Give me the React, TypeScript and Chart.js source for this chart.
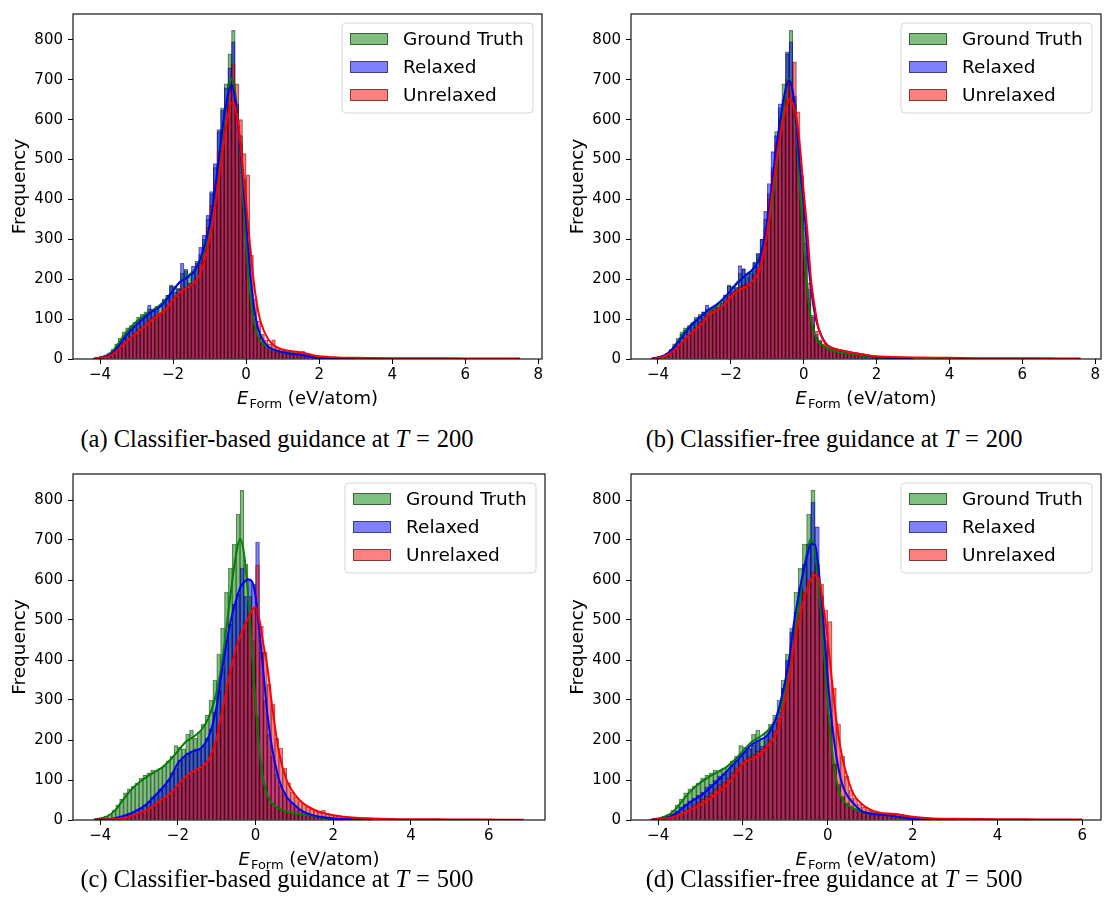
import React, { useEffect, useRef } from "react";
import { Chart, registerables } from "chart.js";

Chart.register(...registerables);

const FONT = "'DejaVu Sans', sans-serif";
const SERIES_NAMES = ["Ground Truth", "Relaxed", "Unrelaxed"];
const FILL = ["rgba(0,128,0,0.5)", "rgba(0,0,255,0.5)", "rgba(255,0,0,0.5)"];
const LINE = ["#008000", "#0000ff", "#ff0000"];
const EDGE = "rgba(0,0,0,0.5)";

// histogram bins (0.1 eV/atom wide, first edge at -4.2)
const BIN_START = -4.2;
const BIN_WIDTH = 0.1;

const X_TICKS_AB = [-4, -2, 0, 2, 4, 6, 8];
const X_TICKS_CD = [-4, -2, 0, 2, 4, 6];
const Y_TICKS = [0, 100, 200, 300, 400, 500, 600, 700, 800];
const Y_MAX = 865;

// Ground truth counts (same data in all four panels)
const GT_COUNTS = [
  2, 4, 6, 10, 15, 25, 38, 52, 68, 78,
  84, 92, 105, 112, 118, 125, 122, 130, 135, 148,
  160, 186, 182, 178, 215, 225, 205, 220, 240, 262,
  300, 350, 415, 480, 570, 630, 690, 765, 824, 640,
  560, 450, 260, 140, 85, 55, 42, 33, 27, 23,
  20, 18, 16, 14, 13, 12, 10, 9, 8, 6,
  4, 3, 2, 2, 1, 1, 1, 1, 0, 0,
];

// (a) classifier-based, T = 200
const A_RELAXED = [
  1, 3, 5, 8, 12, 20, 30, 42, 58, 66,
  75, 80, 98, 104, 112, 135, 126, 132, 112, 150,
  160, 182, 168, 176, 240, 222, 190, 233, 245, 280,
  310, 360, 420, 490, 575, 625, 680, 730, 795, 640,
  540, 430, 280, 165, 100, 62, 44, 34, 27, 22,
  19, 17, 15, 13, 12, 11, 10, 8, 7, 5,
  3, 2, 2, 1, 1, 1, 0, 0, 0, 0,
];
const A_UNRELAXED = [
  2, 2, 3, 5, 8, 12, 18, 28, 40, 48,
  56, 65, 72, 80, 88, 98, 105, 110, 115, 125,
  135, 148, 155, 160, 175, 180, 178, 185, 200, 240,
  280, 330, 385, 445, 520, 575, 630, 690, 740, 690,
  600, 515, 462, 260, 150, 95, 62, 48, 38, 48,
  30, 25, 21, 19, 18, 16, 15, 20, 12, 9,
  7, 5, 4, 4, 3, 3, 3, 2, 2, 2,
];

// (b) classifier-free, T = 200
const B_RELAXED = [
  1, 3, 5, 8, 12, 20, 32, 45, 62, 72,
  80, 88, 100, 108, 118, 135, 122, 128, 130, 140,
  160, 183, 170, 180, 234, 227, 210, 215, 243, 265,
  300, 370, 440, 520, 560, 640, 630, 770, 795, 660,
  540, 430, 290, 175, 105, 62, 45, 32, 27, 24,
  21, 19, 17, 15, 14, 12, 12, 10, 9, 6,
  4, 3, 2, 2, 1, 1, 1, 0, 0, 0,
];
const B_UNRELAXED = [
  1, 2, 3, 5, 8, 13, 20, 30, 42, 52,
  60, 70, 80, 92, 100, 112, 118, 122, 128, 132,
  145, 160, 165, 172, 180, 185, 188, 192, 210, 230,
  262, 325, 400, 470, 540, 600, 650, 700, 690, 745,
  620, 460, 330, 190, 110, 70, 48, 38, 32, 27,
  24, 21, 19, 17, 15, 14, 13, 12, 11, 9,
  8, 7, 6, 6, 5, 5, 4, 4, 3, 3,
];

// (c) classifier-based, T = 500
const C_RELAXED = [
  0, 1, 1, 2, 3, 5, 7, 9, 12, 16,
  20, 26, 30, 38, 46, 58, 65, 78, 85, 100,
  118, 130, 150, 158, 168, 172, 178, 175, 185, 205,
  228, 270, 322, 380, 445, 490, 540, 565, 630, 560,
  600, 590, 695, 420, 300, 215, 160, 115, 85, 65,
  52, 42, 33, 25, 20, 15, 12, 9, 7, 6,
  5, 4, 3, 2, 2, 1, 1, 1, 0, 0,
];
const C_UNRELAXED = [
  0, 1, 1, 2, 2, 3, 4, 5, 7, 9,
  11, 14, 18, 22, 27, 33, 40, 47, 54, 61,
  70, 80, 91, 102, 112, 120, 126, 130, 136, 146,
  165, 190, 225, 270, 320, 370, 410, 440, 470, 495,
  515, 530, 638, 484, 420, 340, 290, 205, 180, 130,
  93, 70, 58, 48, 40, 33, 27, 23, 22, 25,
  17, 15, 13, 11, 9, 8, 7, 6, 5, 5,
];

// (d) classifier-free, T = 500
const D_RELAXED = [
  1, 2, 4, 7, 10, 16, 22, 32, 40, 48,
  55, 62, 70, 82, 90, 100, 110, 115, 122, 138,
  150, 165, 172, 180, 188, 200, 185, 210, 228, 245,
  270, 330, 400, 470, 520, 580, 640, 690, 795, 733,
  530, 390, 240, 140, 90, 60, 42, 32, 25, 20,
  17, 15, 14, 13, 12, 12, 11, 10, 8, 7,
  5, 4, 3, 2, 1, 1, 1, 0, 0, 0,
];
const D_UNRELAXED = [
  1, 2, 3, 5, 7, 10, 14, 18, 23, 30,
  38, 45, 52, 60, 68, 78, 88, 95, 105, 118,
  130, 140, 150, 158, 165, 172, 178, 188, 200, 222,
  255, 310, 375, 440, 500, 540, 570, 600, 620, 640,
  590, 525, 496, 330, 240, 160, 110, 75, 55, 40,
  32, 26, 22, 19, 18, 17, 16, 16, 15, 14,
  12, 10, 8, 7, 6, 5, 4, 3, 3, 2,
];

// KDE curves (sampled, in counts)
const KDE_X = [
  -4.15, -4.0, -3.8, -3.6, -3.4, -3.2, -3.0, -2.8, -2.6, -2.4,
  -2.2, -2.0, -1.8, -1.6, -1.4, -1.2, -1.0, -0.9, -0.8, -0.7,
  -0.6, -0.5, -0.4, -0.3, -0.2, -0.1, 0.0, 0.1, 0.2, 0.3,
  0.4, 0.6, 0.8, 1.0, 1.2, 1.4, 1.6, 1.8, 2.0, 2.5, 3.0,
];
const GT_KDE = [
  2, 4, 10, 26, 52, 76, 94, 108, 120, 132,
  150, 172, 195, 208, 225, 258, 322, 372, 440, 520,
  598, 665, 703, 668, 570, 430, 290, 175, 100, 62,
  44, 29, 21, 17, 14, 12, 9, 5, 3, 2, 1,
];
const A_RELAXED_KDE = [
  1, 3, 8, 20, 44, 68, 86, 102, 118, 128,
  146, 172, 194, 205, 222, 265, 335, 392, 462, 538,
  610, 662, 688, 652, 570, 465, 345, 228, 140, 86,
  58, 31, 22, 17, 14, 12, 9, 5, 3, 1, 0.5,
];
const A_UNRELAXED_KDE = [
  2, 3, 6, 15, 33, 50, 66, 80, 96, 110,
  124, 148, 168, 180, 192, 228, 302, 352, 415, 482,
  550, 610, 643, 632, 578, 485, 390, 292, 200, 135,
  92, 50, 32, 24, 20, 18, 15, 10, 7, 4, 3,
];
const A_TAIL_X = [4, 5, 6, 7, 7.5];
const A_TAIL_KDE = [2, 2, 1.5, 1, 1];

const B_RELAXED_KDE = [
  2, 4, 10, 25, 48, 72, 92, 108, 124, 136,
  152, 172, 192, 210, 225, 255, 345, 415, 495, 565,
  625, 675, 698, 670, 590, 480, 390, 270, 178, 115,
  78, 40, 27, 22, 18, 15, 12, 8, 5, 2, 1,
];
const B_UNRELAXED_KDE = [
  1, 3, 7, 18, 36, 55, 72, 88, 112, 122,
  135, 155, 172, 180, 195, 226, 320, 390, 460, 530,
  580, 625, 652, 640, 606, 530, 420, 320, 200, 132,
  80, 38, 27, 22, 18, 15, 12, 9, 7, 5, 4,
];
const B_TAIL_X = [4, 5, 6, 7, 7.6];
const B_TAIL_KDE = [3, 2, 2, 1.5, 1];

const C_RELAXED_KDE = [
  0.5, 1, 2, 5, 10, 17, 27, 40, 60, 80,
  105, 142, 162, 172, 180, 210, 285, 352, 410, 468,
  515, 550, 580, 594, 602, 598, 560, 470, 370, 270,
  195, 102, 58, 38, 22, 14, 9, 6, 4, 2, 1,
];
const C_UNRELAXED_KDE = [
  0.5, 1, 1.5, 3, 5, 10, 17, 26, 37, 52,
  66, 86, 108, 122, 132, 152, 205, 253, 300, 350,
  392, 430, 458, 482, 502, 522, 533, 500, 440, 385,
  305, 170, 100, 65, 44, 31, 22, 16, 12, 6, 4,
];
const C_TAIL_X = [4, 5, 6, 6.5, 6.9];
const C_TAIL_KDE = [2, 1.5, 1, 0.8, 0.5];

const D_RELAXED_KDE = [
  1, 2, 6, 15, 32, 48, 60, 78, 98, 120,
  142, 165, 188, 200, 215, 262, 350, 410, 492, 555,
  610, 655, 690, 688, 610, 490, 350, 240, 160, 105,
  72, 42, 22, 16, 14, 12, 9, 6, 3, 1, 0.5,
];
const D_UNRELAXED_KDE = [
  1, 2, 4, 9, 18, 28, 39, 52, 68, 85,
  110, 142, 152, 165, 188, 220, 305, 360, 434, 490,
  535, 575, 600, 612, 598, 530, 450, 345, 250, 179,
  130, 66, 40, 26, 19, 16, 15, 11, 8, 4, 3,
];
const D_TAIL_X = [4, 5, 6];
const D_TAIL_KDE = [2, 1.5, 1];

type PanelSpec = {
  key: string;
  left: number;
  top: number;
  width: number;
  height: number;
  padding: { left: number; right: number; top: number; bottom: number };
  xMin: number;
  xMax: number;
  xTicks: number[];
  counts: number[][];
  kdeX: number[][];
  kdeY: number[][];
};

const PANELS: PanelSpec[] = [
  {
    key: "a", left: 0, top: 0, width: 560, height: 420,
    padding: { left: 0, right: 18, top: 8, bottom: 6 },
    xMin: -4.74, xMax: 8.1, xTicks: X_TICKS_AB,
    counts: [GT_COUNTS, A_RELAXED, A_UNRELAXED],
    kdeX: [KDE_X, KDE_X, KDE_X.concat(A_TAIL_X)],
    kdeY: [GT_KDE, A_RELAXED_KDE, A_UNRELAXED_KDE.concat(A_TAIL_KDE)],
  },
  {
    key: "b", left: 558, top: 0, width: 548, height: 420,
    padding: { left: 0, right: 5, top: 8, bottom: 6 },
    xMin: -4.74, xMax: 8.16, xTicks: X_TICKS_AB,
    counts: [GT_COUNTS, B_RELAXED, B_UNRELAXED],
    kdeX: [KDE_X, KDE_X, KDE_X.concat(B_TAIL_X)],
    kdeY: [GT_KDE, B_RELAXED_KDE, B_UNRELAXED_KDE.concat(B_TAIL_KDE)],
  },
  {
    key: "c", left: 0, top: 460, width: 560, height: 420,
    padding: { left: 0, right: 15, top: 8, bottom: 5 },
    xMin: -4.7, xMax: 7.45, xTicks: X_TICKS_CD,
    counts: [GT_COUNTS, C_RELAXED, C_UNRELAXED],
    kdeX: [KDE_X, KDE_X, KDE_X.concat(C_TAIL_X)],
    kdeY: [GT_KDE, C_RELAXED_KDE, C_UNRELAXED_KDE.concat(C_TAIL_KDE)],
  },
  {
    key: "d", left: 558, top: 460, width: 548, height: 420,
    padding: { left: 0, right: 5, top: 8, bottom: 5 },
    xMin: -4.64, xMax: 6.44, xTicks: X_TICKS_CD,
    counts: [GT_COUNTS, D_RELAXED, D_UNRELAXED],
    kdeX: [KDE_X, KDE_X, KDE_X.concat(D_TAIL_X)],
    kdeY: [GT_KDE, D_RELAXED_KDE, D_UNRELAXED_KDE.concat(D_TAIL_KDE)],
  },
];

const CAPTIONS = [
  { label: "(a) Classifier-based guidance at ", t: "200", cx: 277, top: 425 },
  { label: "(b) Classifier-free guidance at ", t: "200", cx: 834, top: 425 },
  { label: "(c) Classifier-based guidance at ", t: "500", cx: 277, top: 865 },
  { label: "(d) Classifier-free guidance at ", t: "500", cx: 834, top: 865 },
];

const fmtTick = (v: number) => (v < 0 ? "\u2212" + Math.abs(v) : String(v));

const decorPlugin = {
  id: "decor",
  afterDraw(chart: any) {
    const { ctx, chartArea } = chart;
    const { left, right, top, bottom } = chartArea;
    ctx.save();
    // frame (spines)
    ctx.strokeStyle = "#000";
    ctx.lineWidth = 1.1;
    ctx.strokeRect(left, top, right - left, bottom - top);

    // x label: E_Form (eV/atom)
    const big = 18;
    const small = 13;
    ctx.fillStyle = "#000";
    ctx.textBaseline = "alphabetic";
    ctx.font = `italic ${big}px ${FONT}`;
    const wE = ctx.measureText("E").width;
    ctx.font = `${small}px ${FONT}`;
    const wSub = ctx.measureText("Form").width;
    ctx.font = `${big}px ${FONT}`;
    const rest = " (eV/atom)";
    const wRest = ctx.measureText(rest).width;
    const total = wE + 1 + wSub + wRest;
    let x = (left + right) / 2 - total / 2;
    const base = bottom + 45;
    ctx.textAlign = "left";
    ctx.font = `italic ${big}px ${FONT}`;
    ctx.fillText("E", x, base);
    x += wE + 1;
    ctx.font = `${small}px ${FONT}`;
    ctx.fillText("Form", x, base + 3.5);
    x += wSub;
    ctx.font = `${big}px ${FONT}`;
    ctx.fillText(rest, x, base);

    // legend
    const bw = 191;
    const bh = 90;
    const bx = right - 9 - bw;
    const by = top + 9;
    const r = 4;
    ctx.beginPath();
    ctx.moveTo(bx + r, by);
    ctx.lineTo(bx + bw - r, by);
    ctx.arcTo(bx + bw, by, bx + bw, by + r, r);
    ctx.lineTo(bx + bw, by + bh - r);
    ctx.arcTo(bx + bw, by + bh, bx + bw - r, by + bh, r);
    ctx.lineTo(bx + r, by + bh);
    ctx.arcTo(bx, by + bh, bx, by + bh - r, r);
    ctx.lineTo(bx, by + r);
    ctx.arcTo(bx, by, bx + r, by, r);
    ctx.closePath();
    ctx.fillStyle = "rgba(255,255,255,0.8)";
    ctx.fill();
    ctx.strokeStyle = "#d6d6d6";
    ctx.lineWidth = 1;
    ctx.stroke();
    ctx.font = `18.5px ${FONT}`;
    ctx.textBaseline = "middle";
    SERIES_NAMES.forEach((name, i) => {
      const cy = by + 16 + i * 28;
      ctx.fillStyle = FILL[i];
      ctx.fillRect(bx + 8, cy - 6, 38, 12);
      ctx.strokeStyle = EDGE;
      ctx.lineWidth = 1;
      ctx.strokeRect(bx + 8.5, cy - 5.5, 37, 11);
      ctx.fillStyle = "#000";
      ctx.fillText(name, bx + 61, cy + 1);
    });
    ctx.restore();
  },
};

function HistPanel({ spec }: { spec: PanelSpec }) {
  const ref = useRef<HTMLCanvasElement | null>(null);
  useEffect(() => {
    const canvas = ref.current;
    if (!canvas) return;
    const datasets: any[] = [];
    spec.counts.forEach((arr, s) => {
      datasets.push({
        type: "bar",
        label: SERIES_NAMES[s],
        data: arr.map((v, i) => ({ x: BIN_START + BIN_WIDTH * (i + 0.5), y: v })),
        backgroundColor: FILL[s],
        borderColor: EDGE,
        borderWidth: 0.5,
        barPercentage: 1,
        categoryPercentage: 1,
        grouped: false,
        order: 10 - s,
      });
    });
    spec.kdeY.forEach((arr, s) => {
      datasets.push({
        type: "line",
        label: SERIES_NAMES[s] + " KDE",
        data: arr.map((v, i) => ({ x: spec.kdeX[s][i], y: v })),
        borderColor: LINE[s],
        borderWidth: 2,
        pointRadius: 0,
        fill: false,
        cubicInterpolationMode: "monotone",
        order: 3 - s,
      });
    });
    const chart = new Chart(canvas, {
      type: "bar",
      data: { datasets },
      options: {
        animation: false,
        responsive: false,
        events: [],
        layout: { padding: spec.padding },
        plugins: {
          legend: { display: false },
          tooltip: { enabled: false },
        },
        scales: {
          x: {
            type: "linear",
            min: spec.xMin,
            max: spec.xMax,
            offset: false,
            afterBuildTicks: (axis: any) => {
              axis.ticks = spec.xTicks.map((v) => ({ value: v }));
            },
            afterFit: (axis: any) => {
              axis.height = 55;
            },
            grid: {
              display: true,
              drawOnChartArea: false,
              drawTicks: true,
              tickLength: 5,
              color: "#000",
              lineWidth: 1,
              offset: false,
            },
            border: { display: false },
            ticks: {
              color: "#000",
              font: { family: FONT, size: 15 },
              padding: 2,
              maxRotation: 0,
              autoSkip: false,
              callback: (v: any) => fmtTick(Number(v)),
            },
          },
          y: {
            type: "linear",
            min: 0,
            max: Y_MAX,
            afterBuildTicks: (axis: any) => {
              axis.ticks = Y_TICKS.map((v) => ({ value: v }));
            },
            afterFit: (axis: any) => {
              axis.width = 73;
            },
            grid: {
              display: true,
              drawOnChartArea: false,
              drawTicks: true,
              tickLength: 5,
              color: "#000",
              lineWidth: 1,
            },
            border: { display: false },
            title: {
              display: true,
              text: "Frequency",
              color: "#000",
              font: { family: FONT, size: 18.5 },
              padding: { top: 9, bottom: 0 },
            },
            ticks: {
              color: "#000",
              font: { family: FONT, size: 15 },
              padding: 5,
              autoSkip: false,
              callback: (v: any) => fmtTick(Number(v)),
            },
          },
        },
      },
      plugins: [decorPlugin],
    } as any);
    return () => chart.destroy();
  }, [spec]);
  return (
    <canvas
      ref={ref}
      width={spec.width}
      height={spec.height}
      style={{
        position: "absolute",
        left: spec.left,
        top: spec.top,
        width: spec.width,
        height: spec.height,
        display: "block",
      }}
    />
  );
}

export default function App() {
  return (
    <div
      style={{
        position: "absolute",
        left: 0,
        top: 0,
        width: 1106,
        height: 918,
        background: "#fff",
        overflow: "hidden",
      }}
    >
      {PANELS.map((p) => (
        <HistPanel key={p.key} spec={p} />
      ))}
      {CAPTIONS.map((c, i) => (
        <div
          key={i}
          style={{
            position: "absolute",
            left: c.cx - 300,
            width: 600,
            top: c.top,
            textAlign: "center",
            fontFamily: "'Liberation Serif', 'Times New Roman', serif",
            fontSize: 24.5,
            lineHeight: "28px",
            color: "#000",
            whiteSpace: "nowrap",
          }}
        >
          {c.label}
          <i>T</i>
          <span style={{ margin: "0 0.28em" }}>=</span>
          {c.t}
        </div>
      ))}
    </div>
  );
}
